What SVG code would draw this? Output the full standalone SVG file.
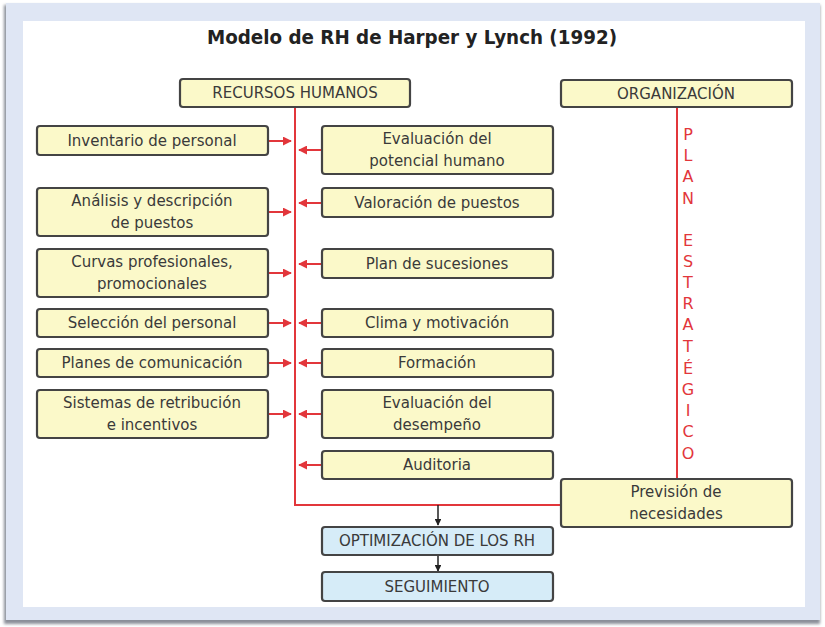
<svg xmlns="http://www.w3.org/2000/svg" width="825" height="627" viewBox="0 0 825 627">
  <defs>
    <marker id="redHead" viewBox="0 0 10 10" refX="9" refY="5" markerWidth="4.5" markerHeight="4.5" orient="auto">
      <path d="M0,0 L10,5 L0,10 z" fill="#e2363b"/>
    </marker>
    <marker id="blackHead" viewBox="0 0 10 10" refX="9" refY="5" markerWidth="4.5" markerHeight="4.5" orient="auto">
      <path d="M0,0 L10,5 L0,10 z" fill="#222"/>
    </marker>
    <filter id="frameShadow" x="-5%" y="-5%" width="110%" height="110%">
      <feGaussianBlur stdDeviation="1.5"/>
    </filter>
  </defs>
  <style>
    .box { fill: #fbf9c9; stroke: #444; stroke-width: 2.2; }
    .blue { fill: #d6ecf8; stroke: #444; stroke-width: 2.2; }
    .lbl { font-family: "DejaVu Sans", Verdana, sans-serif; font-size: 15px; fill: #3a3a3a; text-anchor: middle; }
    .red { stroke: #e2363b; stroke-width: 2; fill: none; }
    .redArrow { stroke: #e2363b; stroke-width: 2; fill: none; marker-end: url(#redHead); }
    .blackArrow { stroke: #222; stroke-width: 1.5; fill: none; marker-end: url(#blackHead); }
    .plan { font-family: "DejaVu Sans", Verdana, sans-serif; font-size: 16px; fill: #e2363b; text-anchor: middle; }
  </style>

  <!-- frame -->
  <rect x="0" y="0" width="825" height="627" fill="#ffffff"/>
  <rect x="4" y="5" width="816" height="619" fill="#8a8f99" filter="url(#frameShadow)"/>
  <rect x="6" y="3" width="814" height="617" fill="#dfe6f4"/>
  <rect x="23" y="21" width="782" height="586" fill="#ffffff"/>

  <!-- title -->
  <text x="412" y="44" font-family="DejaVu Sans, Verdana, sans-serif" font-size="19" font-weight="bold" fill="#222" text-anchor="middle" textLength="410" lengthAdjust="spacingAndGlyphs">Modelo de RH de Harper y Lynch (1992)</text>

  <!-- connectors -->
  <g id="connectors">
    <!-- main RH spine and link to forecast box -->
    <polyline class="red" points="295,107 295,505 561,505"/>
    <!-- strategic plan line -->
    <line class="red" x1="677" y1="107" x2="677" y2="479"/>
    <!-- left column arrows -->
    <line class="redArrow" x1="268" y1="141" x2="291" y2="141"/>
    <line class="redArrow" x1="268" y1="212" x2="291" y2="212"/>
    <line class="redArrow" x1="268" y1="273" x2="291" y2="273"/>
    <line class="redArrow" x1="268" y1="323" x2="291" y2="323"/>
    <line class="redArrow" x1="268" y1="363" x2="291" y2="363"/>
    <line class="redArrow" x1="268" y1="414" x2="291" y2="414"/>
    <!-- right column arrows -->
    <line class="redArrow" x1="322" y1="150" x2="299" y2="150"/>
    <line class="redArrow" x1="322" y1="203" x2="299" y2="203"/>
    <line class="redArrow" x1="322" y1="264" x2="299" y2="264"/>
    <line class="redArrow" x1="322" y1="323" x2="299" y2="323"/>
    <line class="redArrow" x1="322" y1="363" x2="299" y2="363"/>
    <line class="redArrow" x1="322" y1="414" x2="299" y2="414"/>
    <line class="redArrow" x1="322" y1="465" x2="299" y2="465"/>
    <!-- downward flow -->
    <line class="blackArrow" x1="438" y1="505" x2="438" y2="525"/>
    <line class="blackArrow" x1="438" y1="555" x2="438" y2="571"/>
  </g>

  <!-- strategic plan label -->
  <g id="plan-estrategico">
    <text class="plan" x="688" y="140">P</text>
    <text class="plan" x="688" y="161">L</text>
    <text class="plan" x="688" y="182">A</text>
    <text class="plan" x="688" y="204">N</text>
    <text class="plan" x="688" y="246">E</text>
    <text class="plan" x="688" y="267">S</text>
    <text class="plan" x="688" y="288">T</text>
    <text class="plan" x="688" y="309">R</text>
    <text class="plan" x="688" y="330">A</text>
    <text class="plan" x="688" y="352">T</text>
    <text class="plan" x="688" y="374">É</text>
    <text class="plan" x="688" y="395">G</text>
    <text class="plan" x="688" y="416">I</text>
    <text class="plan" x="688" y="437">C</text>
    <text class="plan" x="688" y="459">O</text>
  </g>

  <!-- header nodes -->
  <g id="recursos-humanos">
    <rect class="box" x="180" y="79" width="230" height="28" rx="3"/>
    <text class="lbl" x="295" y="98">RECURSOS HUMANOS</text>
  </g>
  <g id="organizacion">
    <rect class="box" x="561" y="80" width="231" height="27" rx="3"/>
    <text class="lbl" x="676" y="99">ORGANIZACIÓN</text>
  </g>

  <!-- left column -->
  <g id="inventario">
    <rect class="box" x="37" y="126" width="231" height="29" rx="3"/>
    <text class="lbl" x="152" y="146">Inventario de personal</text>
  </g>
  <g id="analisis">
    <rect class="box" x="37" y="188" width="231" height="48" rx="3"/>
    <text class="lbl" x="152" y="206">Análisis y descripción</text>
    <text class="lbl" x="152" y="228">de puestos</text>
  </g>
  <g id="curvas">
    <rect class="box" x="37" y="249" width="231" height="48" rx="3"/>
    <text class="lbl" x="152" y="267">Curvas profesionales,</text>
    <text class="lbl" x="152" y="289">promocionales</text>
  </g>
  <g id="seleccion">
    <rect class="box" x="37" y="309" width="231" height="28" rx="3"/>
    <text class="lbl" x="152" y="328">Selección del personal</text>
  </g>
  <g id="comunicacion">
    <rect class="box" x="37" y="349" width="231" height="28" rx="3"/>
    <text class="lbl" x="152" y="368">Planes de comunicación</text>
  </g>
  <g id="retribucion">
    <rect class="box" x="37" y="390" width="231" height="48" rx="3"/>
    <text class="lbl" x="152" y="408">Sistemas de retribución</text>
    <text class="lbl" x="152" y="430">e incentivos</text>
  </g>

  <!-- right column -->
  <g id="potencial">
    <rect class="box" x="322" y="126" width="231" height="48" rx="3"/>
    <text class="lbl" x="437" y="144">Evaluación del</text>
    <text class="lbl" x="437" y="166">potencial humano</text>
  </g>
  <g id="valoracion">
    <rect class="box" x="322" y="188" width="231" height="29" rx="3"/>
    <text class="lbl" x="437" y="208">Valoración de puestos</text>
  </g>
  <g id="sucesiones">
    <rect class="box" x="322" y="249" width="231" height="29" rx="3"/>
    <text class="lbl" x="437" y="269">Plan de sucesiones</text>
  </g>
  <g id="clima">
    <rect class="box" x="322" y="309" width="231" height="28" rx="3"/>
    <text class="lbl" x="437" y="328">Clima y motivación</text>
  </g>
  <g id="formacion">
    <rect class="box" x="322" y="349" width="231" height="28" rx="3"/>
    <text class="lbl" x="437" y="368">Formación</text>
  </g>
  <g id="desempeno">
    <rect class="box" x="322" y="390" width="231" height="48" rx="3"/>
    <text class="lbl" x="437" y="408">Evaluación del</text>
    <text class="lbl" x="437" y="430">desempeño</text>
  </g>
  <g id="auditoria">
    <rect class="box" x="322" y="451" width="231" height="28" rx="3"/>
    <text class="lbl" x="437" y="470">Auditoria</text>
  </g>

  <!-- forecast and outcome nodes -->
  <g id="prevision">
    <rect class="box" x="561" y="479" width="231" height="48" rx="3"/>
    <text class="lbl" x="676" y="497">Previsión de</text>
    <text class="lbl" x="676" y="519">necesidades</text>
  </g>
  <g id="optimizacion">
    <rect class="blue" x="322" y="527" width="231" height="28" rx="3"/>
    <text class="lbl" x="437" y="546">OPTIMIZACIÓN DE LOS RH</text>
  </g>
  <g id="seguimiento">
    <rect class="blue" x="322" y="572" width="231" height="29" rx="3"/>
    <text class="lbl" x="437" y="592">SEGUIMIENTO</text>
  </g>
</svg>
